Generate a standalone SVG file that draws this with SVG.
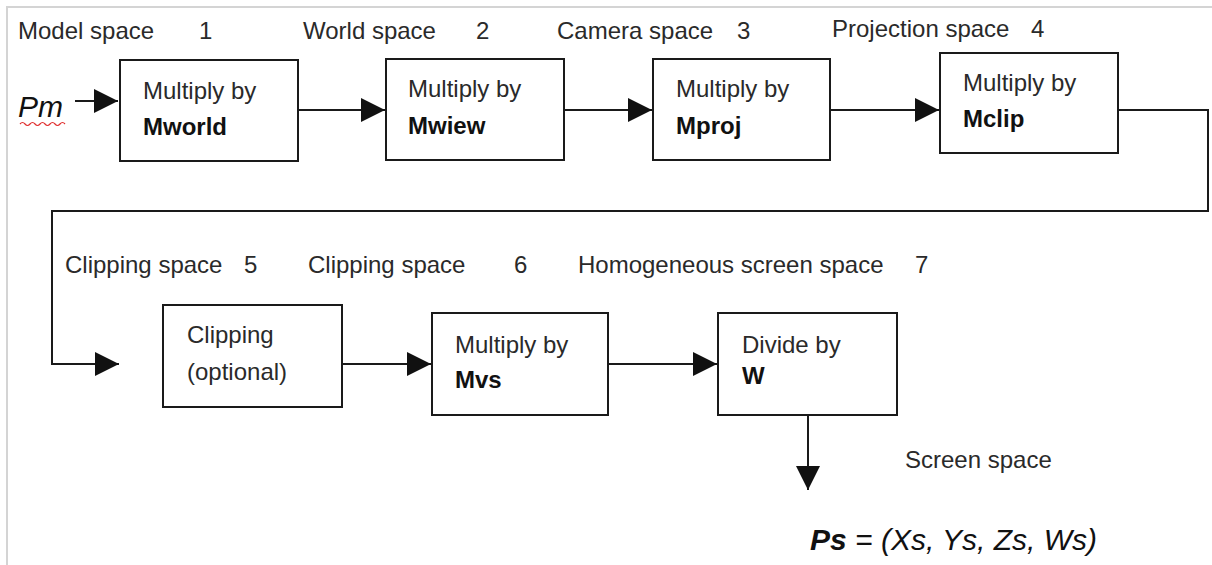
<svg xmlns="http://www.w3.org/2000/svg" width="1212" height="565" viewBox="0 0 1212 565">
  <style>
    .box { fill: #ffffff; stroke: #1a1a1a; stroke-width: 2; }
    .conn { fill: none; stroke: #1a1a1a; stroke-width: 2; }
    .t { font-family: "Liberation Sans", Arial, sans-serif; font-size: 24px; fill: #2a2a2a; }
    .b { font-family: "Liberation Sans", Arial, sans-serif; font-size: 24px; font-weight: bold; fill: #111111; }
    .frame { stroke: #d4d4d4; stroke-width: 2; fill: none; }
  </style>
  <defs>
    <marker id="ah" viewBox="0 0 24 24" markerWidth="24" markerHeight="24" refX="24" refY="12" orient="auto" markerUnits="userSpaceOnUse">
      <path d="M0,0 L24,12 L0,24 Z" fill="#111111"/>
    </marker>
  </defs>
  <rect width="1212" height="565" fill="#ffffff"/>
  <path class="frame" d="M7,565 V7 H1212"/>

  <g id="labels">
    <text class="t" x="18" y="39">Model space</text>
    <text class="t" x="199" y="39">1</text>
    <text class="t" x="303" y="39">World space</text>
    <text class="t" x="476" y="39">2</text>
    <text class="t" x="557" y="39">Camera space</text>
    <text class="t" x="737" y="39">3</text>
    <text class="t" x="832" y="37">Projection space</text>
    <text class="t" x="1031" y="37">4</text>
    <text class="t" x="65" y="273">Clipping space</text>
    <text class="t" x="244" y="273">5</text>
    <text class="t" x="308" y="273">Clipping space</text>
    <text class="t" x="514" y="273">6</text>
    <text class="t" x="578" y="273">Homogeneous screen space</text>
    <text class="t" x="915" y="273">7</text>
    <text class="t" x="905" y="468">Screen space</text>
  </g>

  <g id="pm">
    <text x="18" y="117" font-family="Liberation Sans, Arial, sans-serif" font-size="30" font-style="italic" fill="#111111">Pm</text>
    <path d="M20,124 q2.5,-3 5,0 t5,0 t5,0 t5,0 t5,0 t5,0 t5,0 t5,0 t5,0" fill="none" stroke="#e03030" stroke-width="1.2"/>
  </g>

  <g id="node1">
    <rect class="box" x="120" y="60" width="178" height="101"/>
    <text class="t" x="143" y="99">Multiply by</text>
    <text class="b" x="143" y="135">Mworld</text>
  </g>
  <g id="node2">
    <rect class="box" x="386" y="59" width="178" height="101"/>
    <text class="t" x="408" y="97">Multiply by</text>
    <text class="b" x="408" y="134">Mwiew</text>
  </g>
  <g id="node3">
    <rect class="box" x="653" y="59" width="177" height="101"/>
    <text class="t" x="676" y="97">Multiply by</text>
    <text class="b" x="676" y="134">Mproj</text>
  </g>
  <g id="node4">
    <rect class="box" x="940" y="53" width="178" height="100"/>
    <text class="t" x="963" y="91">Multiply by</text>
    <text class="b" x="963" y="127">Mclip</text>
  </g>
  <g id="node5">
    <rect class="box" x="163" y="305" width="179" height="102"/>
    <text class="t" x="187" y="343">Clipping</text>
    <text class="t" x="187" y="380">(optional)</text>
  </g>
  <g id="node6">
    <rect class="box" x="432" y="313" width="176" height="102"/>
    <text class="t" x="455" y="353">Multiply by</text>
    <text class="b" x="455" y="388">Mvs</text>
  </g>
  <g id="node7">
    <rect class="box" x="718" y="313" width="179" height="102"/>
    <text class="t" x="742" y="353">Divide by</text>
    <text class="b" x="742" y="384">W</text>
  </g>

  <g id="result">
    <text x="810" y="550" font-family="Liberation Sans, Arial, sans-serif" font-size="30" font-style="italic" fill="#111111"><tspan font-weight="bold">Ps</tspan> = (Xs, Ys, Zs, Ws)</text>
  </g>

  <g id="connectors">
    <path class="conn" d="M75,101 H118" marker-end="url(#ah)"/>
    <path class="conn" d="M298,110 H385" marker-end="url(#ah)"/>
    <path class="conn" d="M564,110 H652" marker-end="url(#ah)"/>
    <path class="conn" d="M830,110 H939" marker-end="url(#ah)"/>
    <path class="conn" d="M1118,110 H1208 V211 H52 V364 H119" marker-end="url(#ah)"/>
    <path class="conn" d="M342,364 H431" marker-end="url(#ah)"/>
    <path class="conn" d="M608,364 H717" marker-end="url(#ah)"/>
    <path class="conn" d="M808,415 V490" marker-end="url(#ah)"/>
  </g>
</svg>
